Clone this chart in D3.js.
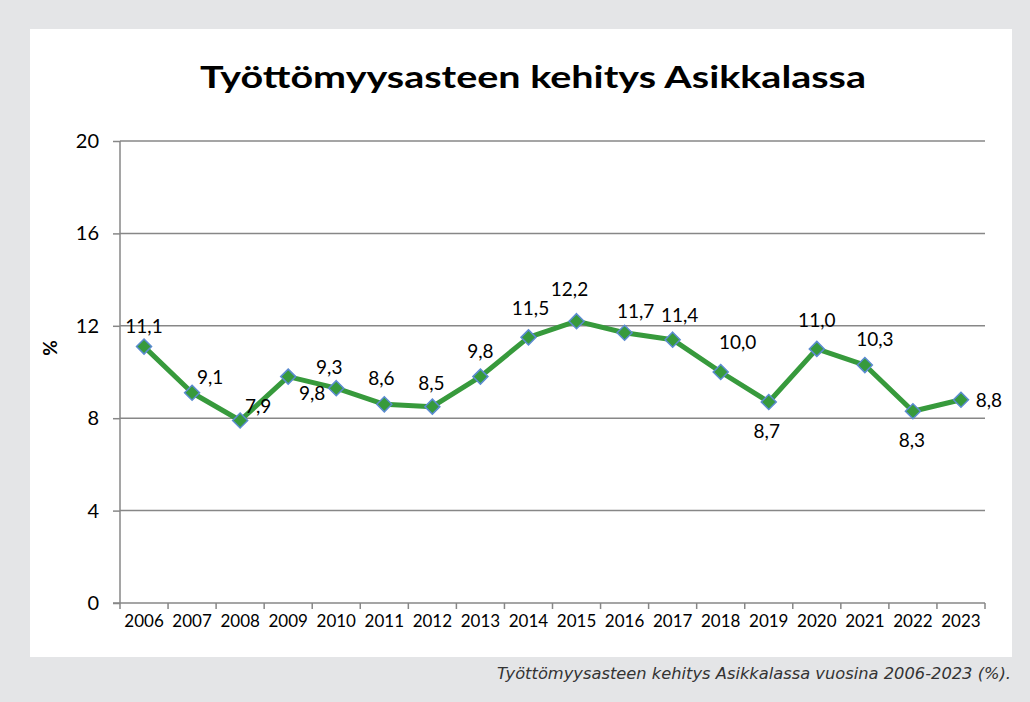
<!DOCTYPE html>
<html lang="fi">
    <head>
        <meta charset="utf-8">
        <title>Työttömyysaste Asikkala</title>
        <script type="text/javascript" src="https://d3js.org/d3.v7.min.js"></script>
        <style>
            body { margin: 0; background: #e4e5e7; }
            #chart { display: block; }
            .axis path, .axis line { stroke: #878787; stroke-width: 1.5; }
            .axis text { font-family: Lato, "Open Sans", sans-serif; fill: #000; }
        </style>
    </head>
    <body>
        <svg id="chart" width="1030" height="702"></svg>
    </body>
    <script>
        // data
        let years = ["2006","2007","2008","2009","2010","2011","2012","2013","2014",
                     "2015","2016","2017","2018","2019","2020","2021","2022","2023"];
        let rates = [11.1, 9.1, 7.9, 9.8, 9.3, 8.6, 8.5, 9.8, 11.5,
                     12.2, 11.7, 11.4, 10.0, 8.7, 11.0, 10.3, 8.3, 8.8];
        let yTicks = [0, 4, 8, 12, 16, 20];

        // where excel put each data label, relative to its point
        let labelOffset = [[0,-14],[18,-9],[18,-8],[24,23],[-7,-14],[-3,-19],[-1,-17],[0,-19],[2,-22],
                           [-7,-25],[11,-15],[7,-18],[17,-23],[-2,36],[0,-22],[10,-19],[-1,36],[28,7]];

        let svg = d3.select("#chart");
        let margin = {left:120, right:45, top:141, bottom:99};
        let width = 1030 - margin.left - margin.right;
        let height = 702 - margin.top - margin.bottom;

        // white chart panel
        svg.append("rect")
            .attr("x", 30).attr("y", 29)
            .attr("width", 982).attr("height", 628)
            .attr("fill", "#fff");

        svg.append("text")
            .attr("x", 200).attr("y", 88)
            .attr("textLength", 666)
            .attr("lengthAdjust", "spacingAndGlyphs")
            .style("font-family", "Lato, sans-serif")
            .style("font-weight", "bold")
            .style("font-size", "30px")
            .text("Työttömyysasteen kehitys Asikkalassa");

        let x = d3.scaleBand().domain(years).range([0, width]).padding(0);
        let y = d3.scaleLinear().domain([0, 20]).range([height, 0]);

        let g = svg.append("g")
            .attr("transform", "translate("+margin.left+","+margin.top+")");

        // gridlines
        g.append("g")
            .selectAll("line")
            .data(yTicks.filter(d => d > 0))
            .join("line")
            .attr("x1", 0).attr("x2", width)
            .attr("y1", d => y(d)).attr("y2", d => y(d))
            .attr("stroke", "#878787")
            .attr("stroke-width", 1.5);

        // y axis
        g.append("g")
            .attr("class", "axis")
            .call(d3.axisLeft(y).tickValues(yTicks).tickSize(7).tickPadding(14))
            .call(a => a.select(".domain").attr("d", "M0," + y(20) + "V" + y(0)))
            .selectAll("text").style("font-size", "20px");

        // x axis, ticks sit between the categories
        let xAxis = g.append("g")
            .attr("class", "axis")
            .attr("transform", "translate(0,"+height+")")
            .call(d3.axisBottom(x).tickSize(0).tickPadding(12))
            .call(a => a.select(".domain").attr("d", "M-7,0H" + width));
        xAxis.selectAll("text").style("font-size", "17px");
        xAxis.selectAll(".edge")
            .data(years.map(d => x(d)).concat([x(years[years.length-1]) + x.bandwidth()]))
            .join("line")
            .attr("x1", d => d).attr("x2", d => d)
            .attr("y1", 0).attr("y2", 6);

        // y label
        svg.append("text")
            .attr("transform", "translate(57,348) rotate(-90)")
            .attr("text-anchor", "middle")
            .style("font-family", "Lato, sans-serif")
            .style("font-weight", "bold")
            .style("font-size", "19px")
            .text("%");

        let data = years.map((d, i) => ({year: d, rate: rates[i], off: labelOffset[i]}));
        let cx = d => x(d.year) + x.bandwidth() / 2;

        // the line
        g.append("path")
            .datum(data)
            .attr("fill", "none")
            .attr("stroke", "#379a3c")
            .attr("stroke-width", 5)
            .attr("stroke-linejoin", "round")
            .attr("d", d3.line().x(cx).y(d => y(d.rate)));

        // diamond markers
        g.selectAll(".marker")
            .data(data)
            .join("path")
            .attr("class", "marker")
            .attr("transform", d => "translate("+cx(d)+","+y(d.rate)+")")
            .attr("d", "M0,-7.5L7.5,0L0,7.5L-7.5,0Z")
            .attr("fill", "#379a3c")
            .attr("stroke", "#5b8bd0")
            .attr("stroke-width", 1.5);

        // data labels
        g.selectAll(".lbl")
            .data(data)
            .join("text")
            .attr("class", "lbl")
            .attr("x", d => cx(d) + d.off[0])
            .attr("y", d => y(d.rate) + d.off[1])
            .attr("text-anchor", "middle")
            .style("font-family", "Lato, sans-serif")
            .style("font-size", "19px")
            .text(d => d3.format(".1f")(d.rate).replace(".", ","));

        // caption
        svg.append("text")
            .attr("x", 497).attr("y", 679)
            .attr("textLength", 514)
            .attr("lengthAdjust", "spacingAndGlyphs")
            .style("font-family", "'DejaVu Sans', sans-serif")
            .style("font-style", "italic")
            .style("font-size", "15px")
            .attr("fill", "#333")
            .text("Työttömyysasteen kehitys Asikkalassa vuosina 2006-2023 (%).");
    </script>
</html>
